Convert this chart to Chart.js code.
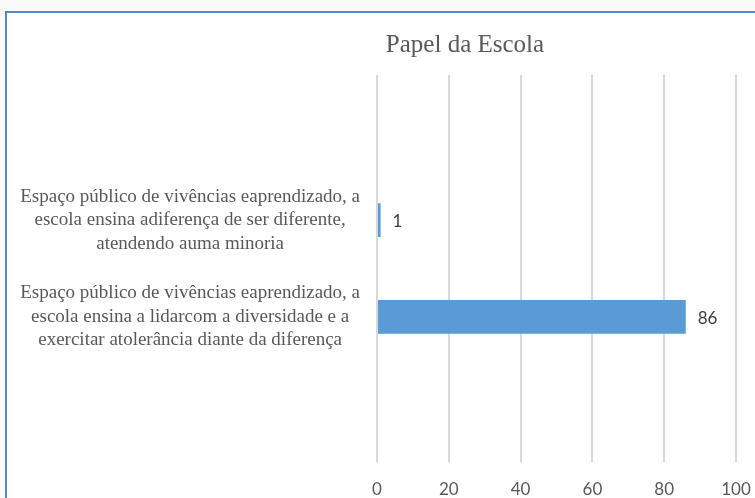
<!DOCTYPE html>
<html>
<head>
<meta charset="utf-8">
<script src="https://cdn.jsdelivr.net/npm/chart.js@4/dist/chart.umd.min.js"></script>
<style>
  html, body { margin: 0; padding: 0; background: #fafafa; overflow: hidden; }
  #wrap { width: 755px; height: 498px; position: relative; }
</style>
</head>
<body>
<div id="wrap"><canvas id="c" width="755" height="498"></canvas></div>
<script>
const chartTitle = "Papel da Escola";
const categories = [
  [""],
  ["Espaço público de vivências eaprendizado, a", "escola ensina adiferença de ser diferente,", "atendendo auma minoria"],
  ["Espaço público de vivências eaprendizado, a", "escola ensina a lidarcom a diversidade e a", "exercitar atolerância diante da diferença"],
  [""]
];
const values = [null, 1, 86, null];
const xTicks = [0, 20, 40, 60, 80, 100];

const frame = {
  id: 'frame',
  beforeDraw(chart) {
    const ctx = chart.ctx;
    ctx.save();
    ctx.fillStyle = '#fafafa';
    ctx.fillRect(0, 0, chart.width, chart.height);
    ctx.fillStyle = '#ffffff';
    ctx.fillRect(6, 12, chart.width - 6, chart.height - 12);
    ctx.strokeStyle = '#5289c7';
    ctx.lineWidth = 2;
    ctx.beginPath();
    ctx.moveTo(6, chart.height);
    ctx.lineTo(6, 12);
    ctx.lineTo(chart.width, 12);
    ctx.stroke();
    ctx.restore();
  },
  afterDraw(chart) {
    const ctx = chart.ctx;
    ctx.save();
    ctx.font = '25px "Liberation Serif"';
    ctx.fillStyle = '#595959';
    ctx.textAlign = 'center';
    ctx.textBaseline = 'alphabetic';
    ctx.fillText(chartTitle, 465, 52);
    ctx.restore();
  }
};

const dataLabels = {
  id: 'dataLabels',
  afterDatasetsDraw(chart) {
    const ctx = chart.ctx;
    const meta = chart.getDatasetMeta(0);
    ctx.save();
    ctx.font = '17px Lato';
    ctx.fillStyle = '#404040';
    ctx.textAlign = 'left';
    ctx.textBaseline = 'middle';
    meta.data.forEach((bar, i) => {
      const v = values[i];
      if (v === null || v === undefined) return;
      ctx.fillText(String(v), bar.x + 12, bar.y + 1.5);
    });
    ctx.restore();
  }
};

new Chart(document.getElementById('c'), {
  type: 'bar',
  data: {
    labels: categories,
    datasets: [{
      data: values,
      backgroundColor: '#5b9bd5',
      borderWidth: 0,
      barPercentage: 0.35,
      categoryPercentage: 1.0
    }]
  },
  options: {
    indexAxis: 'y',
    responsive: false,
    animation: false,
    devicePixelRatio: 1,
    layout: { padding: { top: 75, left: 15, right: 19, bottom: 0 } },
    plugins: {
      legend: { display: false },
      title: { display: false },
      tooltip: { enabled: false }
    },
    scales: {
      x: {
        type: 'linear',
        min: 0,
        max: 100,
        afterBuildTicks(scale) { scale.ticks = xTicks.map(v => ({ value: v })); },
        afterFit(scale) { scale.paddingLeft = 0; scale.paddingRight = 0; scale.height = 36; },
        grid: { color: '#d9d9d9', lineWidth: 2, drawTicks: false },
        border: { display: false },
        ticks: {
          padding: 17,
          color: '#595959',
          font: { family: 'Lato', size: 17 }
        }
      },
      y: {
        grid: { display: false, drawTicks: false },
        border: { display: false },
        afterFit(scale) { scale.width = 362; scale.paddingTop = 0; scale.paddingBottom = 0; },
        ticks: {
          crossAlign: 'center',
          padding: 17,
          color: '#595959',
          font: { family: '"Liberation Serif"', size: 19, lineHeight: 1.24 }
        }
      }
    }
  },
  plugins: [frame, dataLabels]
});
</script>
</body>
</html>
